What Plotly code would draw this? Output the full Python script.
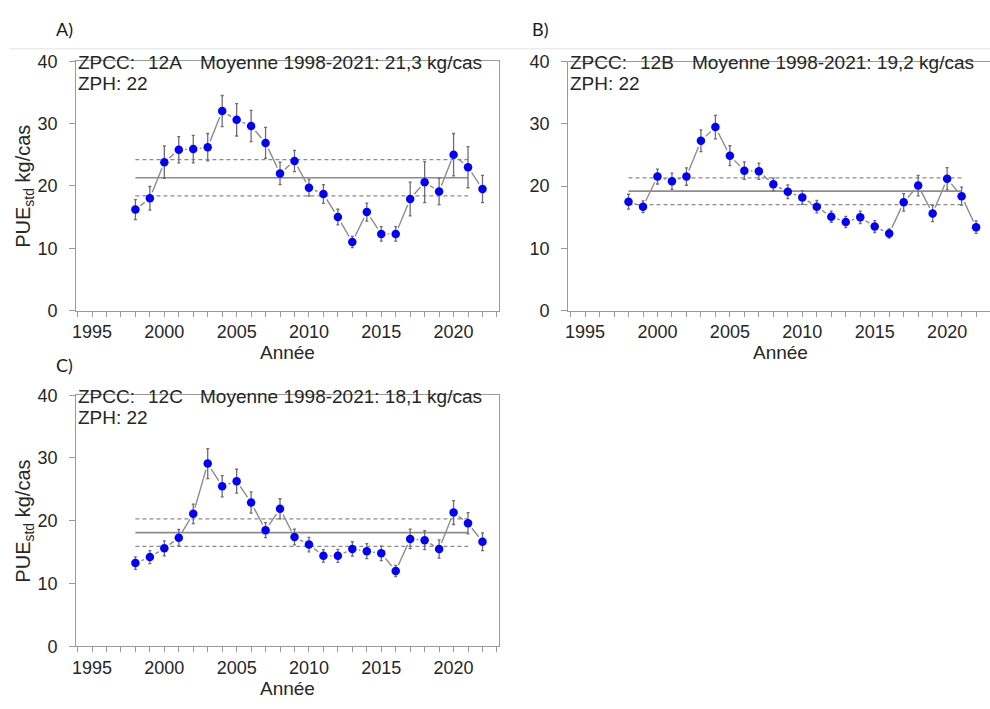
import plotly.graph_objects as go

# ---- data -------------------------------------------------------------
years = list(range(1998, 2023))

pue_12a = [16.2, 18.0, 23.8, 25.8, 25.9, 26.2, 32.0, 30.6, 29.6, 26.9, 22.0, 24.0, 19.7,
           18.7, 15.0, 11.0, 15.8, 12.3, 12.3, 17.9, 20.6, 19.1, 25.0, 23.0, 19.5]
err_12a = [1.6, 1.9, 2.6, 2.1, 2.2, 2.2, 2.5, 2.6, 2.5, 2.5, 1.8, 1.7, 1.35,
           1.5, 1.25, 0.9, 1.45, 1.15, 1.15, 2.7, 3.3, 2.1, 3.4, 3.3, 2.2]

pue_12b = [17.5, 16.7, 21.55, 20.8, 21.55, 27.3, 29.5, 24.9, 22.5, 22.4, 20.3, 19.1, 18.2,
           16.7, 15.1, 14.25, 15.0, 13.5, 12.4, 17.4, 20.1, 15.6, 21.2, 18.4, 13.4]
err_12b = [1.2, 0.95, 1.2, 1.3, 1.4, 1.75, 1.9, 1.6, 1.4, 1.3, 1.0, 1.1, 1.1,
           1.0, 0.9, 0.9, 1.0, 0.95, 0.75, 1.4, 1.65, 1.3, 1.8, 1.45, 1.0]

pue_12c = [13.25, 14.2, 15.6, 17.3, 21.1, 29.1, 25.5, 26.3, 22.9, 18.5, 21.9, 17.4, 16.2,
           14.4, 14.4, 15.5, 15.15, 14.8, 12.0, 17.1, 16.9, 15.5, 21.3, 19.6, 16.65]
err_12c = [1.0, 1.05, 1.2, 1.3, 1.55, 2.4, 1.7, 1.9, 1.7, 1.2, 1.6, 1.25, 1.15,
           1.0, 1.05, 1.15, 1.2, 1.15, 0.9, 1.55, 1.5, 1.45, 1.9, 1.7, 1.4]

# 1998-2021 mean and the band drawn around it
mean_years = [1998, 2021]
means = {"12A": 21.3, "12B": 19.2, "12C": 18.1}
band_half = {"12A": 2.9, "12B": 2.15, "12C": 2.2}

zones = ["12A", "12B", "12C"]
zph = "22"
panel_tags = ["A)", "B)", "C)"]
series = {"12A": (pue_12a, err_12a), "12B": (pue_12b, err_12b), "12C": (pue_12c, err_12c)}

y_ticks = [0, 10, 20, 30, 40]
x_major = [1995, 2000, 2005, 2010, 2015, 2020]

# ---- figure -------------------------------------------------------------
W, H = 990, 709


def px(x):
    return x / W


def py(y):
    return 1 - y / H


FONT = "Liberation Sans, Arial, sans-serif"
GREY_LINE = "#8c8c8c"
FRAME = "#9a9a9a"
TXT = "#262626"

# panel boxes in pixels: left, right, top, bottom, x-range
panels = {
    "12A": dict(l=72.7, r=496.7, t=52.7, b=309.3, xr=[1993.92, 2023.12], axis=""),
    "12B": dict(l=566.7, r=990.0, t=53.3, b=309.3, xr=[1993.85, 2022.96], axis="2"),
    "12C": dict(l=72.7, r=496.7, t=396.4, b=654.7, xr=[1993.92, 2023.12], axis="3"),
}

fig = go.Figure()
layout = dict(
    width=W, height=H, margin=dict(l=0, r=0, t=0, b=0),
    paper_bgcolor="white", plot_bgcolor="white", showlegend=False,
    font=dict(family=FONT, color=TXT),
)
annotations = []
shapes = []


def label(text, x, y, size, xanchor="left", yanchor="middle", family=FONT, angle=0,
          color=TXT):
    return dict(text=text, x=px(x), y=py(y), xref="paper", yref="paper",
                xanchor=xanchor, yanchor=yanchor, showarrow=False, textangle=angle,
                borderpad=0, borderwidth=0,
                font=dict(size=size, family=family, color=color))


for z, tag in zip(zones, panel_tags):
    p = panels[z]
    vals, errs = series[z]
    xa = "x" + p["axis"]
    ya = "y" + p["axis"]

    # connecting line, interrupted around each point
    fig.add_trace(go.Scatter(x=years, y=vals, mode="lines", xaxis=xa, yaxis=ya,
                             line=dict(color=GREY_LINE, width=1.4), hoverinfo="skip"))
    fig.add_trace(go.Scatter(x=years, y=vals, mode="markers", xaxis=xa, yaxis=ya,
                             marker=dict(color="white", size=13, line=dict(width=0)),
                             hoverinfo="skip"))
    # mean and band
    m, h = means[z], band_half[z]
    fig.add_trace(go.Scatter(x=mean_years, y=[m, m], mode="lines", xaxis=xa, yaxis=ya,
                             line=dict(color=GREY_LINE, width=1.6), hoverinfo="skip"))
    for v in (m + h, m - h):
        fig.add_trace(go.Scatter(x=mean_years, y=[v, v], mode="lines", xaxis=xa, yaxis=ya,
                                 line=dict(color="#8a8a8a", width=1.2, dash="4px,3px"),
                                 hoverinfo="skip"))
    # points with error bars
    fig.add_trace(go.Scatter(
        x=years, y=vals, mode="markers", xaxis=xa, yaxis=ya,
        marker=dict(color="#0000ff", size=8.5, line=dict(width=0)),
        error_y=dict(type="data", array=errs, visible=True, color="#6e6e6e",
                     thickness=1.3, width=1.5),
    ))

    xdom = [px(p["l"]), px(p["r"])]
    ydom = [py(p["b"]), py(p["t"])]
    mirror_y = z != "12B"
    layout["xaxis" + p["axis"]] = dict(
        domain=xdom, range=p["xr"], anchor=ya,
        tickvals=x_major, ticks="outside", ticklen=5, tickwidth=1.2, tickcolor=FRAME,
        minor=dict(dtick=1, tick0=1994, ticks="outside", ticklen=5, tickwidth=1.2,
                   tickcolor=FRAME),
        showline=True, linecolor=FRAME, linewidth=1.4, mirror=True,
        showgrid=False, zeroline=False,
        tickfont=dict(size=18, family=FONT, color=TXT),
    )
    layout["yaxis" + p["axis"]] = dict(
        domain=ydom, range=[0, 40], anchor=xa,
        tickvals=y_ticks, ticks="outside", ticklen=6, tickwidth=1.2, tickcolor=FRAME,
        showline=True, linecolor=FRAME, linewidth=1.4, mirror=mirror_y,
        showgrid=False, zeroline=False, ticklabelstandoff=8,
        tickfont=dict(size=18, family=FONT, color=TXT),
    )

    # text inside the panel: two rows whose boxes meet at mid-height
    l, t = p["l"], p["t"]
    mid = t + 12
    mean_txt = "Moyenne 1998-2021: " + f"{m:.1f}".replace(".", ",") + " kg/cas"
    annotations.append(label("ZPCC:", l + 2, mid, 19, yanchor="bottom"))
    annotations.append(label(z, l + 72, mid, 19, yanchor="bottom"))
    annotations.append(label(mean_txt, l + 124.5, mid, 19, yanchor="bottom"))
    annotations.append(label("ZPH: " + zph, l + 2, mid, 19, yanchor="top"))

    # axis titles
    cx = (p["l"] + 212) if z != "12B" else 780
    annotations.append(label("Année", cx, p["b"] + 43.5, 19, xanchor="center"))
    if z != "12B":
        annotations.append(label("PUE<sub>std</sub> kg/cas", 21, (p["t"] + p["b"]) / 2, 20,
                                 xanchor="center", angle=-90))

# panel tags
for tag, (xx, yy) in zip(panel_tags, [(61, 20), (538, 20), (61, 365)]):
    annotations.append(label(tag, xx, yy, 18, xanchor="center",
                             family="Lato, sans-serif", color="#1a1a1a"))

# thin rule under the top tags
shapes.append(dict(type="line", xref="paper", yref="paper", x0=px(5), x1=1, y0=py(40),
                   y1=py(40), line=dict(color="#ececec", width=1.5)))

layout["annotations"] = annotations
layout["shapes"] = shapes
fig.update_layout(**layout)
fig.write_html("out.html")
